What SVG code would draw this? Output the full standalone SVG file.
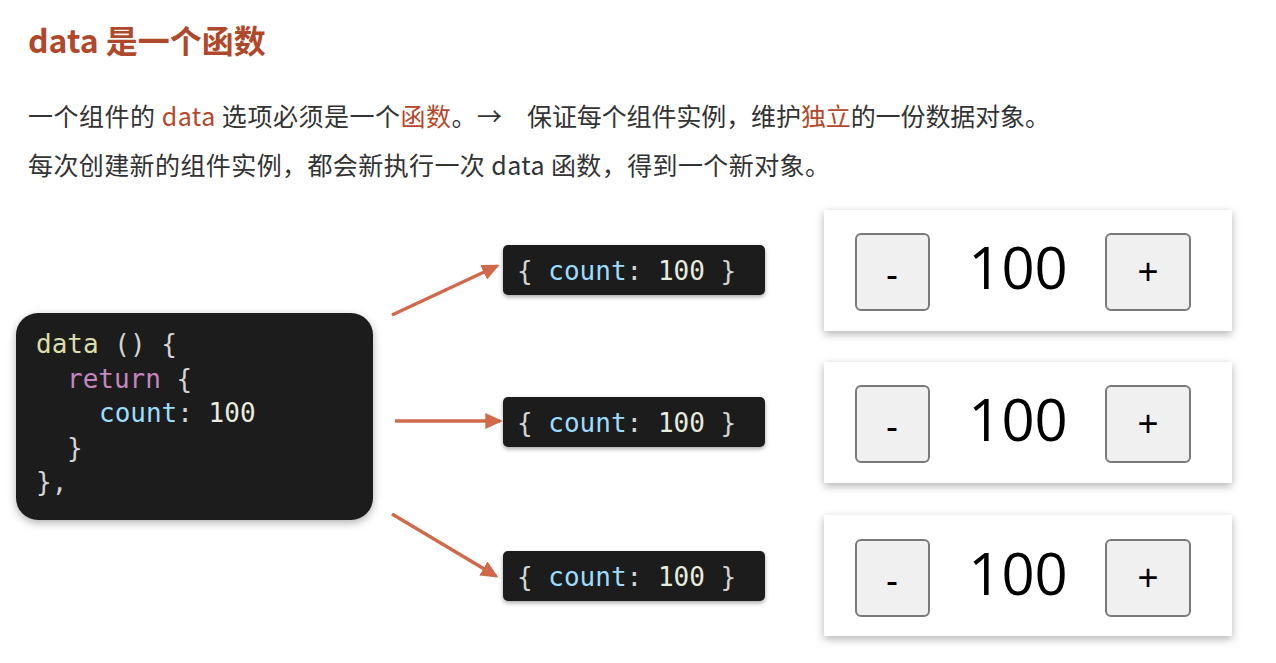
<svg xmlns="http://www.w3.org/2000/svg" width="1276" height="663" viewBox="0 0 1276 663">
<style>
.title{font-family:"Noto Sans CJK SC","Noto Sans",sans-serif;font-size:32px;font-weight:bold;fill:#b0482b}
.body{font-family:"Noto Sans CJK SC","Noto Sans",sans-serif;font-size:25px;fill:#333}
.hl{fill:#b5472a}
.code{font-family:"DejaVu Sans Mono","Liberation Mono",monospace;font-size:26px;fill:#d4d4d4}
.fn{fill:#dcdcaa}.kw{fill:#c586c0}.prop{fill:#9cdcfe}.num{fill:#e8ecdf}
.obj{font-family:"DejaVu Sans Mono","Liberation Mono",monospace;font-size:26px;fill:#d4d4d4}
.dark{fill:#1e1e1e}
.card{fill:#fff}
.btn{fill:#f0f0f0;stroke:#7a7a7a;stroke-width:2}
.val{font-family:"Open Sans","Liberation Sans",sans-serif;font-size:58px;fill:#000;text-anchor:middle}
.sym{font-family:"Liberation Sans",sans-serif;font-size:36px;fill:#000;text-anchor:middle}
.arrow{stroke:#d06a4b;stroke-width:3.5;fill:none;marker-end:url(#ah)}
</style>
<defs>
<filter id="sh" x="-10%" y="-20%" width="120%" height="150%">
<feDropShadow dx="0" dy="3" stdDeviation="4" flood-color="#000" flood-opacity="0.3"/>
</filter>
<filter id="sh2" x="-10%" y="-30%" width="120%" height="170%">
<feDropShadow dx="0" dy="2" stdDeviation="2" flood-color="#000" flood-opacity="0.35"/>
</filter>
<marker id="ah" markerWidth="5" markerHeight="5" refX="4.2" refY="2.5" orient="auto" markerUnits="strokeWidth">
<path d="M0,0.2 L5,2.5 L0,4.8 Z" fill="#d06a4b"/>
</marker>
</defs>
<rect width="1276" height="663" fill="#fff"/>

<g id="heading">
<text class="title" x="28" y="53">data 是一个函数</text>
<text class="body" x="28" y="126" xml:space="preserve" textLength="474" lengthAdjust="spacing">一个组件的 <tspan class="hl">data</tspan> 选项必须是一个<tspan class="hl">函数</tspan>。→</text>
<text class="body" x="527" y="126" textLength="523" lengthAdjust="spacing">保证每个组件实例，维护<tspan class="hl">独立</tspan>的一份数据对象。</text>
<text class="body" x="28" y="175" textLength="802" lengthAdjust="spacing">每次创建新的组件实例，都会新执行一次 data 函数，得到一个新对象。</text>
</g>

<g id="code">
<rect class="dark" x="16" y="313" width="357" height="207" rx="22" filter="url(#sh)"/>
<text class="code" x="36" y="353" xml:space="preserve"><tspan class="fn">data</tspan> () {</text>
<text class="code" x="67" y="388" xml:space="preserve"><tspan class="kw">return</tspan> {</text>
<text class="code" x="99" y="422" xml:space="preserve"><tspan class="prop">count</tspan>: <tspan class="num">100</tspan></text>
<text class="code" x="67" y="457">}</text>
<text class="code" x="36" y="491">},</text>
</g>

<g id="connectors">
<line class="arrow" x1="392" y1="315" x2="497" y2="266"/>
<line class="arrow" x1="395" y1="421" x2="500" y2="421"/>
<line class="arrow" x1="392" y1="514" x2="496" y2="576"/>
</g>

<g id="obj1">
<rect class="dark" x="503" y="245" width="262" height="50" rx="5" filter="url(#sh2)"/>
<text class="obj" x="517" y="280" xml:space="preserve">{ <tspan class="prop">count</tspan>: <tspan class="num">100</tspan> }</text>
</g>
<g id="obj2">
<rect class="dark" x="503" y="397" width="262" height="50" rx="5" filter="url(#sh2)"/>
<text class="obj" x="517" y="432" xml:space="preserve">{ <tspan class="prop">count</tspan>: <tspan class="num">100</tspan> }</text>
</g>
<g id="obj3">
<rect class="dark" x="503" y="551" width="262" height="50" rx="5" filter="url(#sh2)"/>
<text class="obj" x="517" y="586" xml:space="preserve">{ <tspan class="prop">count</tspan>: <tspan class="num">100</tspan> }</text>
</g>

<g id="counter1">
<rect class="card" x="824" y="210" width="408" height="121" filter="url(#sh)"/>
<rect class="btn" x="856" y="234" width="73" height="76" rx="5"/>
<text class="sym" x="892" y="287">-</text>
<text class="val" x="1018" y="289">100</text>
<rect class="btn" x="1106" y="234" width="84" height="76" rx="5"/>
<text class="sym" x="1148" y="284">+</text>
</g>
<g id="counter2">
<rect class="card" x="824" y="362" width="408" height="121" filter="url(#sh)"/>
<rect class="btn" x="856" y="386" width="73" height="76" rx="5"/>
<text class="sym" x="892" y="439">-</text>
<text class="val" x="1018" y="441">100</text>
<rect class="btn" x="1106" y="386" width="84" height="76" rx="5"/>
<text class="sym" x="1148" y="436">+</text>
</g>
<g id="counter3">
<rect class="card" x="824" y="515" width="408" height="121" filter="url(#sh)"/>
<rect class="btn" x="856" y="540" width="73" height="76" rx="5"/>
<text class="sym" x="892" y="593">-</text>
<text class="val" x="1018" y="595">100</text>
<rect class="btn" x="1106" y="540" width="84" height="76" rx="5"/>
<text class="sym" x="1148" y="590">+</text>
</g>
</svg>
